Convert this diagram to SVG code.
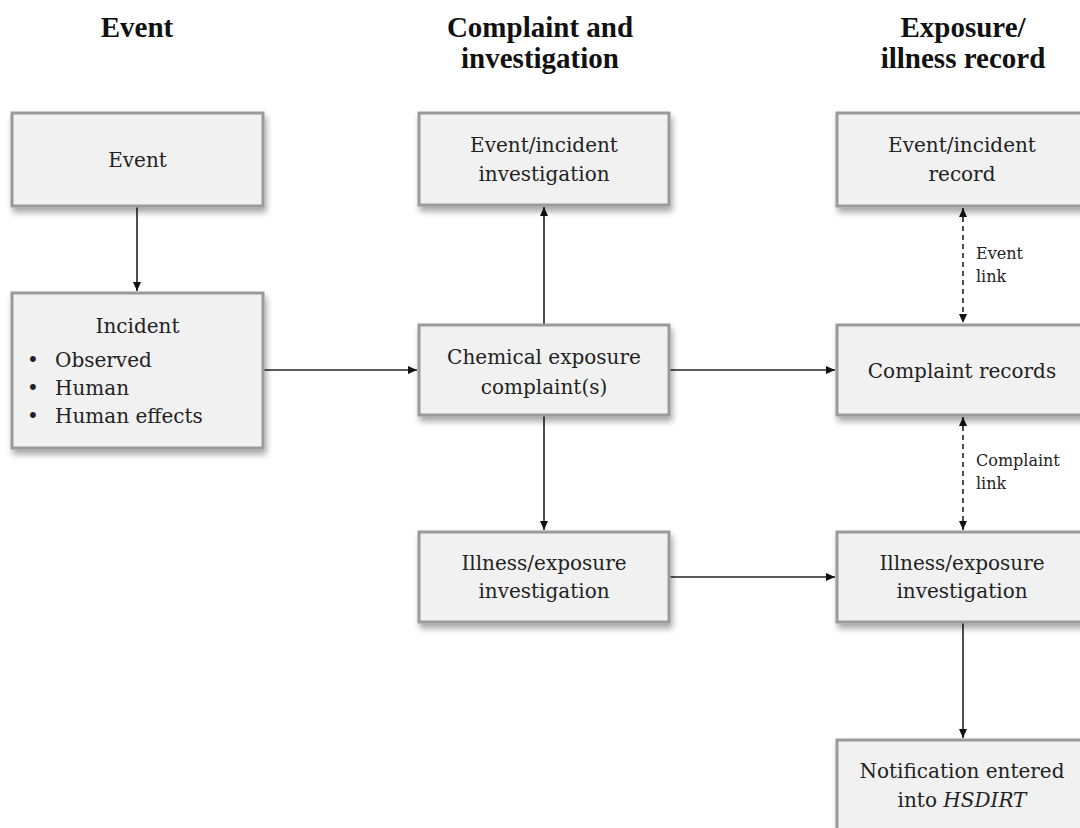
<svg xmlns="http://www.w3.org/2000/svg" width="1080" height="828" viewBox="0 0 1080 828">
<style>
.box{fill:#f1f1f1;stroke:#9a9a9a;stroke-width:3;filter:url(#sh)}
.t{font-family:"DejaVu Serif","Liberation Serif",serif;font-size:20px;fill:#222;text-anchor:middle}
.tl{font-family:"DejaVu Serif","Liberation Serif",serif;font-size:20px;fill:#222}
.h{font-family:"Liberation Serif",serif;font-size:29px;font-weight:bold;fill:#111;text-anchor:middle}
.lk{font-family:"DejaVu Serif","Liberation Serif",serif;font-size:16px;fill:#222}
.c{stroke:#222;stroke-width:1.6;fill:none}
.d{stroke:#222;stroke-width:1.6;fill:none;stroke-dasharray:5,4}
</style>
<defs>
<filter id="sh" x="-10%" y="-10%" width="130%" height="140%">
<feGaussianBlur in="SourceAlpha" stdDeviation="3"/>
<feOffset dx="2" dy="5" result="b"/>
<feComponentTransfer><feFuncA type="linear" slope="0.35"/></feComponentTransfer>
<feMerge><feMergeNode/><feMergeNode in="SourceGraphic"/></feMerge>
</filter>
<marker id="ar" markerWidth="10" markerHeight="10" refX="9" refY="5" orient="auto-start-reverse" markerUnits="userSpaceOnUse">
<path d="M0,1 L9,5 L0,9 Z" fill="#111"/>
</marker>
</defs>
<rect width="1080" height="828" fill="#fff"/>
<g id="headers">
<text class="h" x="137" y="37">Event</text>
<text class="h" x="540" y="37">Complaint and</text>
<text class="h" x="540" y="68">investigation</text>
<text class="h" x="963" y="37">Exposure/</text>
<text class="h" x="963" y="68">illness record</text>
</g>
<g id="connectors">
<line class="c" x1="137" y1="206" x2="137" y2="291" marker-end="url(#ar)"/>
<line class="c" x1="263" y1="370" x2="417" y2="370" marker-end="url(#ar)"/>
<line class="c" x1="544" y1="324" x2="544" y2="207" marker-end="url(#ar)"/>
<line class="c" x1="544" y1="416" x2="544" y2="530" marker-end="url(#ar)"/>
<line class="c" x1="669" y1="370" x2="835" y2="370" marker-end="url(#ar)"/>
<line class="c" x1="669" y1="577" x2="835" y2="577" marker-end="url(#ar)"/>
<line class="d" x1="963" y1="208" x2="963" y2="323" marker-start="url(#ar)" marker-end="url(#ar)"/>
<line class="d" x1="963" y1="417" x2="963" y2="530" marker-start="url(#ar)" marker-end="url(#ar)"/>
<line class="c" x1="963" y1="623" x2="963" y2="738" marker-end="url(#ar)"/>
<text class="lk" x="976" y="259">Event</text>
<text class="lk" x="976" y="282">link</text>
<text class="lk" x="976" y="466">Complaint</text>
<text class="lk" x="976" y="489">link</text>
</g>
<g id="n-event">
<rect class="box" x="12" y="113" width="251" height="93"/>
<text class="t" x="137.5" y="167">Event</text>
</g>
<g id="n-incident">
<rect class="box" x="12" y="293" width="251" height="155"/>
<text class="t" x="137.5" y="333">Incident</text>
<text class="tl" x="27" y="367">•</text>
<text class="tl" x="55" y="367">Observed</text>
<text class="tl" x="27" y="395">•</text>
<text class="tl" x="55" y="395">Human</text>
<text class="tl" x="27" y="423">•</text>
<text class="tl" x="55" y="423">Human effects</text>
</g>
<g id="n-evinv">
<rect class="box" x="419" y="113" width="250" height="92"/>
<text class="t" x="544" y="152">Event/incident</text>
<text class="t" x="544" y="181">investigation</text>
</g>
<g id="n-chem">
<rect class="box" x="419" y="325" width="250" height="90"/>
<text class="t" x="544" y="364">Chemical exposure</text>
<text class="t" x="544" y="394">complaint(s)</text>
</g>
<g id="n-illinv">
<rect class="box" x="419" y="532" width="250" height="90"/>
<text class="t" x="544" y="570">Illness/exposure</text>
<text class="t" x="544" y="598">investigation</text>
</g>
<g id="n-evrec">
<rect class="box" x="837" y="113" width="251" height="93"/>
<text class="t" x="962" y="152">Event/incident</text>
<text class="t" x="962" y="181">record</text>
</g>
<g id="n-comprec">
<rect class="box" x="837" y="325" width="251" height="90"/>
<text class="t" x="962" y="378">Complaint records</text>
</g>
<g id="n-illrec">
<rect class="box" x="837" y="532" width="251" height="90"/>
<text class="t" x="962" y="570">Illness/exposure</text>
<text class="t" x="962" y="598">investigation</text>
</g>
<g id="n-notif">
<rect class="box" x="837" y="740" width="251" height="100"/>
<text class="t" x="962" y="778">Notification entered</text>
<text class="t" x="962" y="807">into <tspan font-style="italic">HSDIRT</tspan></text>
</g>
</svg>
